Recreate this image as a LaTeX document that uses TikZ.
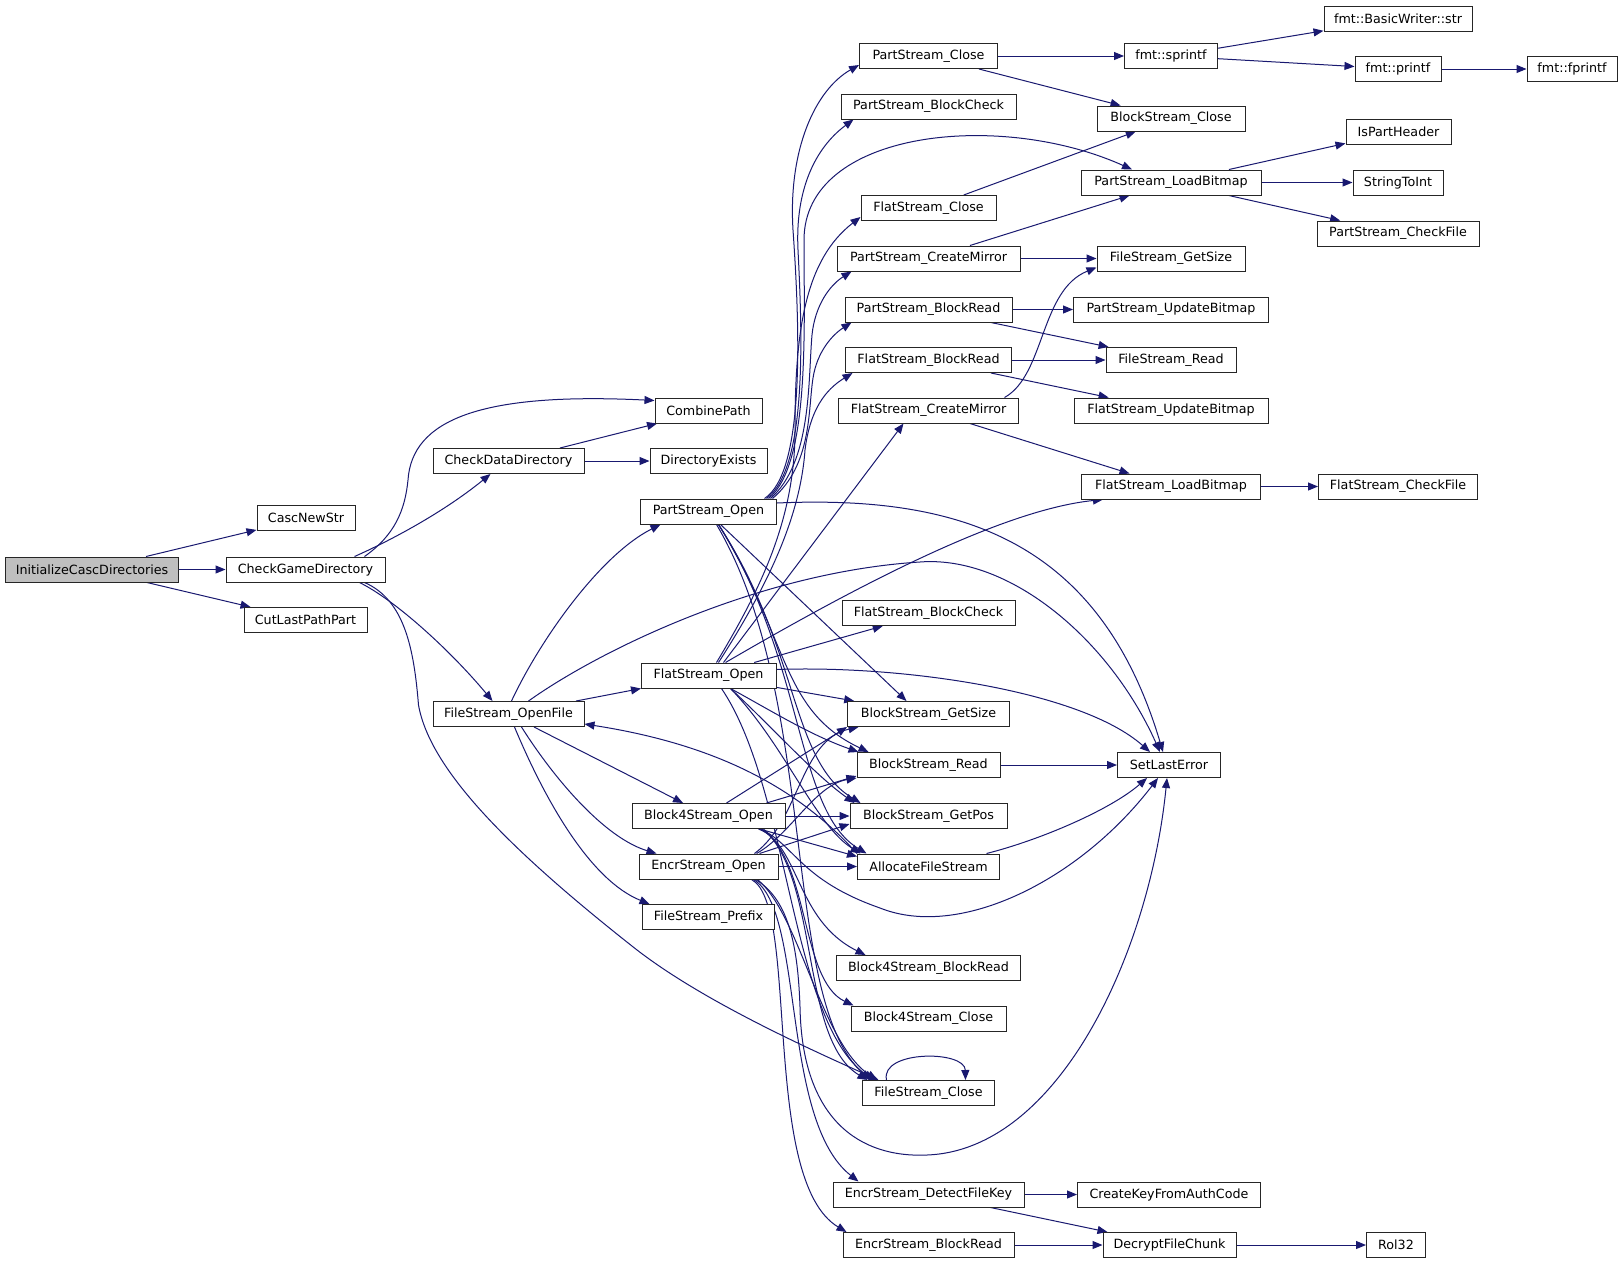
\documentclass[tikz,border=0pt]{standalone}
\usepackage{fontspec}
\newfontfamily\nodefont{DejaVu Sans}
\usetikzlibrary{arrows.meta}
\definecolor{edgeblue}{RGB}{25,25,112}
\definecolor{rootgray}{RGB}{191,191,191}
\pgfdeclarelayer{bglayer}
\pgfdeclarelayer{edgelayer}
\pgfsetlayers{bglayer,edgelayer,main}
\begin{document}
\begin{tikzpicture}[x=1pt,y=-1pt,
  nd/.style={draw=black!85, line width=1pt, fill=white, minimum height=25pt, inner sep=0pt,
             font={\nodefont\fontsize{12.7pt}{15pt}\selectfont}},
  bw/.style={minimum width=#1pt},
  ed/.style={draw=edgeblue, line width=1pt, -{Triangle[length=10pt,width=8pt]}}]
\useasboundingbox (0,0) rectangle (1619,1264);
\begin{pgfonlayer}{bglayer}
\fill[white] (0,0) rectangle (1619,1264);
\end{pgfonlayer}
% ---------- nodes ----------
\node[nd,bw=173,fill=rootgray] (init) at (92,569.5) {InitializeCascDirectories};
\node[nd,bw=98]  (cascnew)   at (306,518)     {CascNewStr};
\node[nd,bw=159] (cgd)       at (305.5,569.5) {CheckGameDirectory};
\node[nd,bw=123] (cutlast)   at (305.5,620)   {CutLastPathPart};
\node[nd,bw=107] (combine)   at (708.5,410.5) {CombinePath};
\node[nd,bw=151] (checkdata) at (508.5,461)   {CheckDataDirectory};
\node[nd,bw=117] (direx)     at (708.5,461)   {DirectoryExists};
\node[nd,bw=136] (pso)       at (708.5,511.5) {PartStream\_Open};
\node[nd,bw=135] (fso)       at (708.5,675.5) {FlatStream\_Open};
\node[nd,bw=151] (fopen)     at (508.5,714)   {FileStream\_OpenFile};
\node[nd,bw=153] (b4open)    at (708.5,816)   {Block4Stream\_Open};
\node[nd,bw=139] (encropen)  at (708.5,866.5) {EncrStream\_Open};
\node[nd,bw=132] (prefix)    at (708.5,917)   {FileStream\_Prefix};
\node[nd,bw=138] (psclose)   at (928.5,56)    {PartStream\_Close};
\node[nd,bw=175] (psbcheck)  at (928.5,106.5) {PartStream\_BlockCheck};
\node[nd,bw=135] (fsclose)   at (928.5,208)   {FlatStream\_Close};
\node[nd,bw=183] (pscmirror) at (928.5,258.5) {PartStream\_CreateMirror};
\node[nd,bw=167] (psbread)   at (928.5,309.5) {PartStream\_BlockRead};
\node[nd,bw=166] (fsbread)   at (928.5,360)   {FlatStream\_BlockRead};
\node[nd,bw=180] (fscmirror) at (928.5,410.5) {FlatStream\_CreateMirror};
\node[nd,bw=173] (fsbcheck)  at (928.5,613)   {FlatStream\_BlockCheck};
\node[nd,bw=162] (bsgetsize) at (928.5,714)   {BlockStream\_GetSize};
\node[nd,bw=143] (bsread)    at (928.5,765)   {BlockStream\_Read};
\node[nd,bw=157] (bsgetpos)  at (928.5,816)   {BlockStream\_GetPos};
\node[nd,bw=142] (alloc)     at (928.5,866.5) {AllocateFileStream};
\node[nd,bw=184] (b4bread)   at (928.5,968)   {Block4Stream\_BlockRead};
\node[nd,bw=155] (b4close)   at (928.5,1018.5){Block4Stream\_Close};
\node[nd,bw=132] (fileclose) at (928.5,1093)  {FileStream\_Close};
\node[nd,bw=191] (detectkey) at (928.5,1194.5){EncrStream\_DetectFileKey};
\node[nd,bw=171] (encrbread) at (928.5,1245)  {EncrStream\_BlockRead};
\node[nd,bw=93]  (sprintf)   at (1171,56)     {fmt::sprintf};
\node[nd,bw=148] (bsclose)   at (1171,118.5)  {BlockStream\_Close};
\node[nd,bw=180] (psload)    at (1171,182.5)  {PartStream\_LoadBitmap};
\node[nd,bw=148] (fgetsize)  at (1171,258.5)  {FileStream\_GetSize};
\node[nd,bw=195] (psupd)     at (1171,309.5)  {PartStream\_UpdateBitmap};
\node[nd,bw=130] (fread)     at (1171,360)    {FileStream\_Read};
\node[nd,bw=194] (fsupd)     at (1171,410.5)  {FlatStream\_UpdateBitmap};
\node[nd,bw=179] (fsload)    at (1171,486.5)  {FlatStream\_LoadBitmap};
\node[nd,bw=103] (setlast)   at (1169,765)    {SetLastError};
\node[nd,bw=183] (createkey) at (1169,1194.5) {CreateKeyFromAuthCode};
\node[nd,bw=133] (decrypt)   at (1169.5,1245) {DecryptFileChunk};
\node[nd,bw=148] (bwstr)     at (1398,18.5)   {fmt::BasicWriter::str};
\node[nd,bw=86]  (printf)    at (1398,69)     {fmt::printf};
\node[nd,bw=105] (ispart)    at (1398.5,131.5){IsPartHeader};
\node[nd,bw=90]  (str2int)   at (1398,182.5)  {StringToInt};
\node[nd,bw=162] (pscheck)   at (1398,233.5)  {PartStream\_CheckFile};
\node[nd,bw=159] (fscheck)   at (1398,486.5)  {FlatStream\_CheckFile};
\node[nd,bw=59]  (rol32)     at (1396,1245)   {Rol32};
\node[nd,bw=90]  (fprintf)   at (1572,69)     {fmt::fprintf};
% ---------- edges ----------
\begin{pgfonlayer}{edgelayer}
% straight ones
\draw[ed] (init) -- (cascnew);
\draw[ed] (init) -- (cgd);
\draw[ed] (init) -- (cutlast);
\draw[ed] (checkdata) -- (combine);
\draw[ed] (checkdata) -- (direx);
\draw[ed] (fopen) -- (fso);
\draw[ed] (fopen) -- (b4open);
\draw[ed] (psclose) -- (sprintf);
\draw[ed] (psclose) -- (bsclose);
\draw[ed] (sprintf) -- (bwstr);
\draw[ed] (sprintf) -- (printf);
\draw[ed] (printf) -- (fprintf);
\draw[ed] (fsclose) -- (bsclose);
\draw[ed] (psload) -- (ispart);
\draw[ed] (psload) -- (str2int);
\draw[ed] (psload) -- (pscheck);
\draw[ed] (pscmirror) -- (psload);
\draw[ed] (pscmirror) -- (fgetsize);
\draw[ed] (psbread) -- (psupd);
\draw[ed] (psbread) -- (fread);
\draw[ed] (fsbread) -- (fread);
\draw[ed] (fsbread) -- (fsupd);
\draw[ed] (fscmirror) -- (fsload);
\draw[ed] (fsload) -- (fscheck);
\draw[ed] (detectkey) -- (createkey);
\draw[ed] (detectkey) -- (decrypt);
\draw[ed] (encrbread) -- (decrypt);
\draw[ed] (decrypt) -- (rol32);
\draw[ed] (bsread) -- (setlast);
\draw[ed] (fso) -- (fsbcheck);
\draw[ed] (fso) -- (bsgetsize);
\draw[ed] (b4open) -- (bsgetpos);
\draw[ed] (encropen) -- (alloc);
% CheckGameDirectory
\draw[ed] ([xshift=59pt]cgd.north) .. controls (395,535) and (405,510) .. (408,480)
          .. controls (412,420) and (480,392) .. ([yshift=10pt]combine.west);
\draw[ed] ([xshift=49pt]cgd.north) .. controls (385,543) and (440,515) .. ([xshift=-18pt]checkdata.south);
\draw[ed] ([xshift=54pt]cgd.south) .. controls (395,600) and (450,650) .. ([xshift=-16pt]fopen.north);
\draw[ed] ([xshift=59pt]cgd.south) .. controls (405,600) and (414,650) .. (418.5,705)
          .. controls (430,770) and (510,850) .. (635.5,948.8)
          .. controls (700,999) and (800,1045) .. ([xshift=-50pt]fileclose.north);
% FileStream_OpenFile
\draw[ed] ([xshift=3pt]fopen.north) .. controls (540,640) and (600,555) .. ([xshift=-48pt]pso.south);
\draw[ed] ([xshift=20pt]fopen.north) .. controls (600,650) and (760,572) .. (920,562)
          .. controls (1010,555) and (1110,640) .. ([xshift=-9pt]setlast.north);
\draw[ed] ([xshift=13pt]fopen.south) .. controls (555,780) and (605,838) .. ([xshift=-52pt]encropen.north);
\draw[ed] ([xshift=6pt]fopen.south) .. controls (545,800) and (590,880) .. ([xshift=-59pt]prefix.north);
% PartStream_Open upwards
\draw[ed] ([xshift=56pt]pso.north) .. controls (805,472) and (800,330) .. (793,230)
          .. controls (788,150) and (815,90) .. ([yshift=-9pt]psclose.west);
\draw[ed] ([xshift=58pt]pso.north) .. controls (808,468) and (802,330) .. (798,250)
          .. controls (795,190) and (815,148) .. ([xshift=-75pt]psbcheck.south);
\draw[ed] ([xshift=60pt]pso.north) .. controls (810,465) and (804,330) .. (804,240)
          .. controls (804,130) and (1000,110) .. ([xshift=-39pt]psload.north);
\draw[ed] ([xshift=62pt]pso.north) .. controls (812,462) and (808,380) .. (812,335)
          .. controls (815,305) and (830,285) .. ([xshift=-77pt]pscmirror.south);
\draw[ed] ([xshift=64pt]pso.north) .. controls (812,465) and (808,410) .. (813,378)
          .. controls (817,352) and (832,335) .. ([xshift=-77pt]psbread.south);
% FlatStream_Open upwards
\draw[ed] ([xshift=8pt]fso.north) .. controls (760,590) and (795,520) .. (795,430)
          .. controls (795,330) and (805,260) .. ([yshift=-9pt]fsclose.west);
\draw[ed] ([xshift=10pt]fso.north) .. controls (765,590) and (800,520) .. (805,450)
          .. controls (810,410) and (825,390) .. ([xshift=-76pt]fsbread.south);
\draw[ed] ([xshift=15pt]fso.north) -- ([xshift=-25pt]fscmirror.south);
\draw[ed] ([xshift=17pt]fso.north) .. controls (850,590) and (1000,510) .. ([xshift=-68pt]fsload.south);
% PartStream_Open downwards
\draw[ed] ([xshift=12pt]pso.south) -- ([xshift=-22pt]bsgetsize.north);
\draw[ed] ([xshift=10pt]pso.south) .. controls (790,640) and (780,710) .. ([xshift=-60pt]bsread.north);
\draw[ed] ([xshift=10pt]pso.south) .. controls (800,650) and (790,760) .. ([xshift=-68pt]bsgetpos.north);
\draw[ed] ([xshift=10pt]pso.south) .. controls (805,660) and (795,810) .. ([xshift=-62pt]alloc.north);
\draw[ed] ([xshift=8pt]pso.south) .. controls (820,700) and (780,1000) .. ([xshift=-58pt]fileclose.north);
\draw[ed] ([yshift=8.5pt]pso.east) .. controls (960,495) and (1100,540) .. ([xshift=-6pt]setlast.north);
% FlatStream_Open downwards
\draw[ed] ([xshift=22pt]fso.south) .. controls (770,710) and (810,735) .. ([xshift=-70pt]bsread.north);
\draw[ed] ([xshift=22pt]fso.south) .. controls (775,730) and (815,775) .. ([xshift=-74pt]bsgetpos.north);
\draw[ed] ([xshift=22pt]fso.south) .. controls (785,745) and (815,825) .. ([xshift=-68pt]alloc.north);
\draw[ed] ([xshift=13pt]fso.south) .. controls (790,790) and (790,1020) .. ([xshift=-55pt]fileclose.north);
\draw[ed] ([yshift=6pt]fso.east) .. controls (900,665) and (1080,690) .. ([xshift=-19pt]setlast.north);
% Block4Stream_Open
\draw[ed] ([xshift=18pt]b4open.north) -- (bsgetsize.south west);
\draw[ed] ([xshift=58pt]b4open.north) -- ([yshift=-11pt]bsread.west);
\draw[ed] ([xshift=51pt]b4open.south) -- ([yshift=10pt]alloc.west);
\draw[ed] ([xshift=50pt]b4open.south) .. controls (800,845) and (795,920) .. ([xshift=-63pt]b4bread.north);
\draw[ed] ([xshift=53pt]b4open.south) .. controls (810,860) and (800,980) .. ([xshift=-75pt]b4close.north);
\draw[ed] ([xshift=55pt]b4open.south) .. controls (820,880) and (800,1040) .. ([xshift=-61pt]fileclose.north);
\draw[ed] ([xshift=52pt]b4open.south) .. controls (795,845) and (800,880) .. (880,908)
          .. controls (960,940) and (1080,880) .. ([xshift=-11pt]setlast.south);
% EncrStream_Open
\draw[ed] ([xshift=46pt]encropen.north) .. controls (800,820) and (800,740) .. ([xshift=-70pt]bsgetsize.south);
\draw[ed] ([xshift=48pt]encropen.north) .. controls (790,835) and (815,785) .. (bsread.south west);
\draw[ed] ([xshift=51pt]encropen.north) -- ([yshift=-8pt]bsgetpos.west);
\draw[ed] ([xshift=45pt]encropen.south) .. controls (805,910) and (780,1120) .. ([xshift=-70pt]detectkey.north);
\draw[ed] ([xshift=43pt]encropen.south) .. controls (800,905) and (760,1180) .. ([xshift=-82pt]encrbread.north);
\draw[ed] ([xshift=49pt]encropen.south) .. controls (800,915) and (820,1040) .. ([xshift=-52pt]fileclose.north);
\draw[ed] ([xshift=47pt]encropen.south) .. controls (790,900) and (798,950) .. (800,1007)
          .. controls (802,1120) and (860,1158) .. (927,1155)
          .. controls (1060,1150) and (1150,950) .. ([xshift=-2pt]setlast.south);
% AllocateFileStream
\draw[ed] ([xshift=58pt]alloc.north) .. controls (1040,840) and (1110,810) .. ([xshift=-22pt]setlast.south);
\draw[ed] (alloc.north west) .. controls (800,790) and (720,745) .. ([yshift=-10pt]fopen.east);
% FlatStream_CreateMirror -> FileStream_GetSize
\draw[ed] ([xshift=76pt]fscmirror.north) .. controls (1045,375) and (1040,290) .. ([yshift=-9pt]fgetsize.west);
% FileStream_Close self loop
\draw[ed] ([xshift=-42pt]fileclose.north) .. controls (880,1050) and (965,1050) .. ([xshift=37pt]fileclose.north);
\end{pgfonlayer}
\end{tikzpicture}
\end{document}
